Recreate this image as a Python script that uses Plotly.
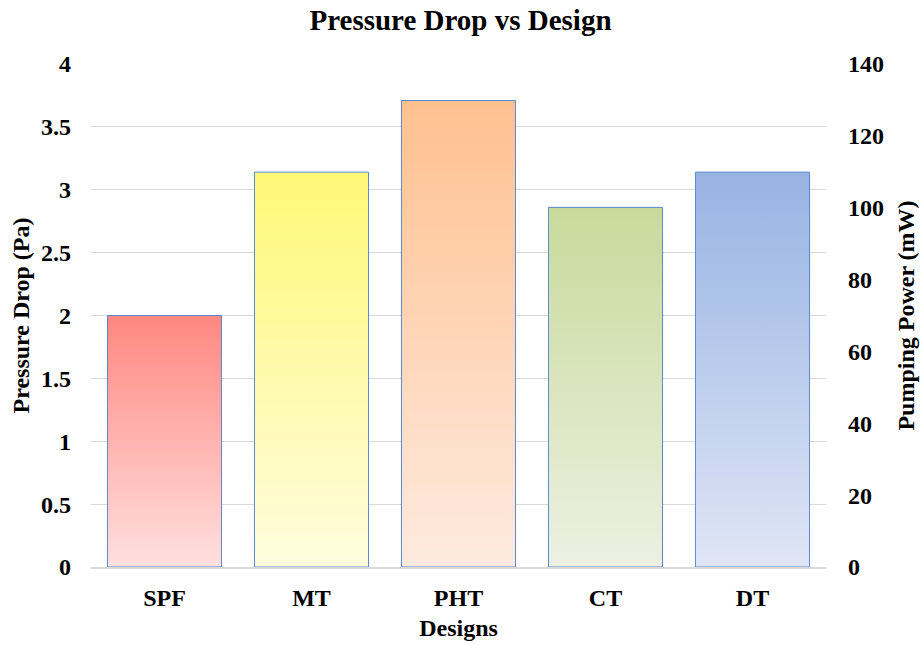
import plotly.graph_objects as go

categories = ["SPF", "MT", "PHT", "CT", "DT"]
pressure_drop = [2.0, 3.14, 3.71, 2.86, 3.14]   # Pa
pumping_power = [70, 110, 130, 100, 110]        # mW
top_colors = ["#FF8780", "#FFF876", "#FFC08F", "#C7DA9B", "#97B3E3"]
bottom_colors = ["#FFE0DF", "#FFFCDF", "#FDEADF", "#EDF0E2", "#DFE5F5"]
left_ticks = [0, 0.5, 1, 1.5, 2, 2.5, 3, 3.5, 4]
right_ticks = [0, 20, 40, 60, 80, 100, 120, 140]

FONT = "Liberation Serif"
HALF = 0.388

fig = go.Figure()
for i, (cat, v) in enumerate(zip(categories, pressure_drop)):
    xs = [i - HALF, i + HALF, i + HALF, i - HALF, i - HALF]
    ys = [0, 0, v, v, 0]
    fig.add_trace(go.Scatter(
        x=xs, y=ys, mode="lines", fill="toself",
        line=dict(color="#5B87CF", width=1),
        fillgradient=dict(type="vertical", start=0, stop=v,
                          colorscale=[[0, bottom_colors[i]], [1, top_colors[i]]]),
        name=cat, showlegend=False, hoverinfo="skip",
    ))

fig.add_trace(go.Scatter(
    x=list(range(len(categories))), y=pumping_power, yaxis="y2",
    mode="markers", marker=dict(opacity=0), showlegend=False, hoverinfo="skip",
))

fig.update_layout(
    width=921, height=645,
    paper_bgcolor="white", plot_bgcolor="white",
    margin=dict(l=91, r=95, t=64, b=78),
    font=dict(family=FONT, color="black", size=24),
    title=dict(text="<b>Pressure Drop vs Design</b>", x=0.5, xanchor="center",
               y=0.985, yanchor="top", font=dict(family=FONT, size=29, color="black")),
    xaxis=dict(
        range=[-0.5, len(categories) - 0.5],
        tickvals=list(range(len(categories))),
        ticktext=[f"<b>{c}</b>" for c in categories],
        showgrid=False, zeroline=False, automargin=False,
        showline=True, linecolor="#D9D9D9", linewidth=1.5,
        ticks="", ticklabelstandoff=8,
        tickfont=dict(family=FONT, size=24, color="black"),
        title=dict(text="<b>Designs</b>", standoff=10,
                   font=dict(family=FONT, size=24, color="black")),
    ),
    yaxis=dict(
        range=[0, 4], tickvals=left_ticks,
        ticktext=[f"<b>{t:g}</b>" for t in left_ticks],
        showgrid=True, gridcolor="#D9D9D9", gridwidth=1, automargin=False,
        zeroline=False, showline=False, ticks="", ticklabelstandoff=19,
        tickfont=dict(family=FONT, size=24, color="black"),
        title=dict(text="<b>Pressure Drop (Pa)</b>", standoff=4,
                   font=dict(family=FONT, size=24, color="black")),
    ),
    yaxis2=dict(
        range=[0, 140], tickvals=right_ticks,
        ticktext=[f"<b>{t}</b>" for t in right_ticks],
        overlaying="y", side="right", showgrid=False, zeroline=False,
        showline=False, ticks="", ticklabelstandoff=21, automargin=False,
        tickfont=dict(family=FONT, size=24, color="black"),
        title=dict(text="<b>Pumping Power (mW)</b>", standoff=14,
                   font=dict(family=FONT, size=24, color="black")),
    ),
)

fig.write_html("out.html")
